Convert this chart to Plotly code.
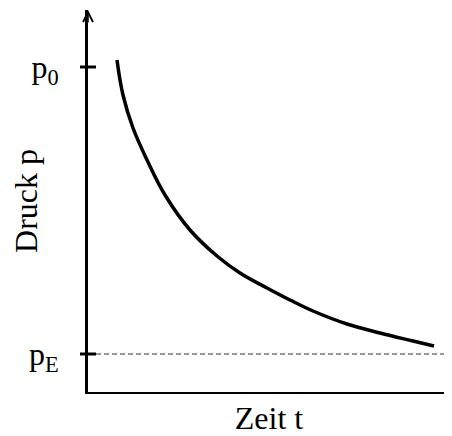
import plotly.graph_objects as go

# data (arbitrary units: time t, pressure p)
t_curve = [2.9, 3.5, 4.5, 6.0, 7.7, 10.2, 12.9, 15.2, 17.9, 20.2, 22.5, 25.9, 29.2, 32.5, 34.6]
p_curve = [33.2, 29.7, 26.4, 23.0, 19.7, 16.2, 13.6, 11.9, 10.4, 9.2, 8.1, 6.8, 5.9, 5.1, 4.6]
p0 = 32.5
pE = 3.8
t_dash = [0.8, 35.8]
tick_vals = [pE, p0]
tick_text = ["p<sub>E</sub>", "p<sub>0</sub>"]

font = "Liberation Serif"

fig = go.Figure()
fig.add_trace(go.Scatter(x=t_dash, y=[pE, pE], mode="lines",
                         line=dict(color="#333333", width=1, dash="5px,3px"),
                         hoverinfo="skip"))
fig.add_trace(go.Scatter(x=t_curve, y=p_curve, mode="lines",
                         line=dict(color="black", width=3.5, shape="spline", smoothing=1.1),
                         hoverinfo="skip"))

# ticks crossing the y axis
for v in tick_vals:
    fig.add_shape(type="line", xref="paper", yref="y", x0=-8/362, x1=8/362,
                  y0=v, y1=v, line=dict(color="black", width=3))

# arrow head on y axis
fig.add_annotation(xref="paper", yref="paper", x=0, y=1, ax=0, ay=14,
                   showarrow=True, arrowhead=5, arrowwidth=1.5, arrowsize=1.3,
                   arrowcolor="black", text="")

fig.update_layout(
    width=444, height=428,
    margin=dict(l=80, r=2, t=2, b=44, autoexpand=False),
    paper_bgcolor="white", plot_bgcolor="white",
    showlegend=False,
    font=dict(family=font, size=32, color="black"),
    xaxis=dict(range=[0, 36.2], showline=True, linecolor="black", linewidth=2,
               showgrid=False, zeroline=False, showticklabels=False, ticks="",
               automargin=False,
               title=dict(text="Zeit t", font=dict(family=font, size=32), standoff=23)),
    yaxis=dict(range=[0, 38.2], showline=True, linecolor="black", linewidth=3,
               showgrid=False, zeroline=False, tickvals=tick_vals, ticktext=tick_text,
               ticks="", ticklabelstandoff=20, automargin=False,
               tickfont=dict(family=font, size=32),
               title=dict(text="Druck p", font=dict(family=font, size=32), standoff=2)),
)

fig.write_html("out.html")
